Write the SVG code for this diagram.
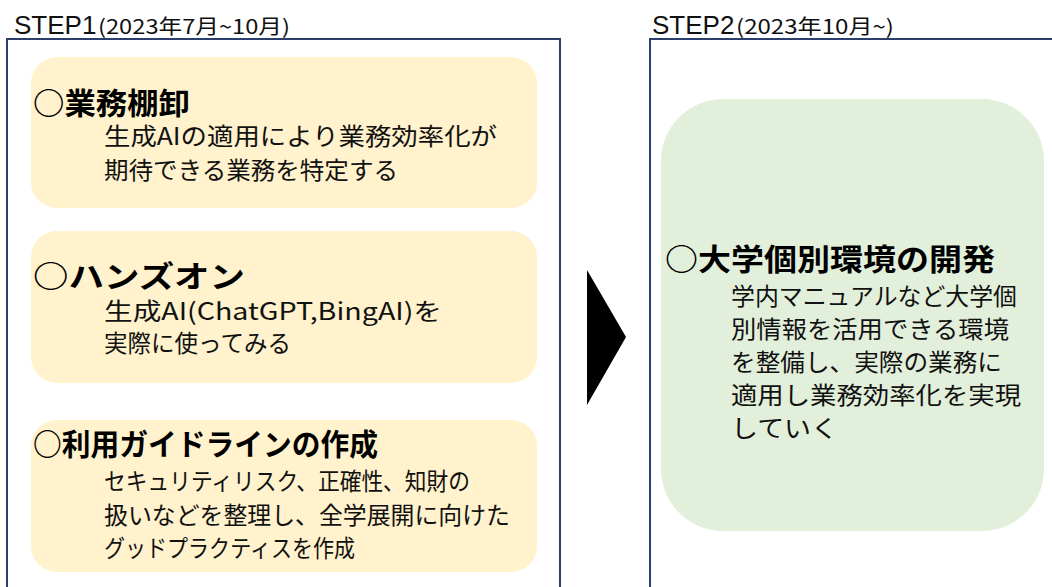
<svg xmlns="http://www.w3.org/2000/svg" width="1052" height="587" viewBox="0 0 1052 587">
<style>
.frame{fill:#ffffff;stroke:#2B3F6C;stroke-width:2}
.yel{fill:#FFF2CC}
.grn{fill:#E2EFDA}
.step{font-family:"Liberation Sans",Arial,sans-serif;font-size:26px;fill:#111}
.sub{font-family:"Noto Sans CJK JP","Liberation Sans",sans-serif;font-size:20px;fill:#111}
.hd{font-family:"Noto Sans CJK JP",sans-serif;font-size:30px;font-weight:bold;fill:#000}
.bd{font-family:"Noto Sans CJK JP",sans-serif;font-size:24px;fill:#111}
</style>
<g id="step1">
<rect class="frame" x="7" y="39" width="553" height="560"/>
<text class="step" x="14" y="34">STEP1</text>
<text class="sub" x="98" y="34" textLength="192" lengthAdjust="spacingAndGlyphs">(2023年7月~10月)</text>
</g>
<g id="step2">
<rect class="frame" x="650" y="39" width="420" height="560"/>
<text class="step" x="652" y="34">STEP2</text>
<text class="sub" x="736" y="34" textLength="158" lengthAdjust="spacingAndGlyphs">(2023年10月~)</text>
</g>
<g id="box1">
<rect class="yel" x="31" y="57" width="506" height="151" rx="26"/>
<text class="hd" x="33" y="114" textLength="157" lengthAdjust="spacingAndGlyphs">○業務棚卸</text>
<text class="bd" x="104" y="145" textLength="393" lengthAdjust="spacingAndGlyphs">生成AIの適用により業務効率化が</text>
<text class="bd" x="104" y="179" textLength="294" lengthAdjust="spacingAndGlyphs">期待できる業務を特定する</text>
</g>
<g id="box2">
<rect class="yel" x="31" y="231" width="506" height="152" rx="26"/>
<text class="hd" x="33" y="287" textLength="212" lengthAdjust="spacingAndGlyphs">○ハンズオン</text>
<text class="bd" x="104" y="320" textLength="338" lengthAdjust="spacingAndGlyphs">生成AI(ChatGPT,BingAI)を</text>
<text class="bd" x="104" y="352" textLength="187" lengthAdjust="spacingAndGlyphs">実際に使ってみる</text>
</g>
<g id="box3">
<rect class="yel" x="31" y="420" width="506" height="152" rx="26"/>
<text class="hd" x="33" y="455" textLength="345" lengthAdjust="spacingAndGlyphs">○利用ガイドラインの作成</text>
<text class="bd" x="104" y="490" textLength="366" lengthAdjust="spacingAndGlyphs">セキュリティリスク、正確性、知財の</text>
<text class="bd" x="104" y="524" textLength="406" lengthAdjust="spacingAndGlyphs">扱いなどを整理し、全学展開に向けた</text>
<text class="bd" x="104" y="557" textLength="251" lengthAdjust="spacingAndGlyphs">グッドプラクティスを作成</text>
</g>
<g id="box4">
<rect class="grn" x="661" y="99" width="383" height="432" rx="62"/>
<text class="hd" x="665" y="270" textLength="330" lengthAdjust="spacingAndGlyphs">○大学個別環境の開発</text>
<text class="bd" x="731" y="305" textLength="286" lengthAdjust="spacingAndGlyphs">学内マニュアルなど大学個</text>
<text class="bd" x="731" y="338" textLength="278" lengthAdjust="spacingAndGlyphs">別情報を活用できる環境</text>
<text class="bd" x="731" y="371" textLength="271" lengthAdjust="spacingAndGlyphs">を整備し、実際の業務に</text>
<text class="bd" x="731" y="404" textLength="290" lengthAdjust="spacingAndGlyphs">適用し業務効率化を実現</text>
<text class="bd" x="731" y="437" textLength="107" lengthAdjust="spacingAndGlyphs">していく</text>
</g>
<g id="connectors">
<polygon points="587,270 626,337 587,405" fill="#000"/>
</g>
</svg>
